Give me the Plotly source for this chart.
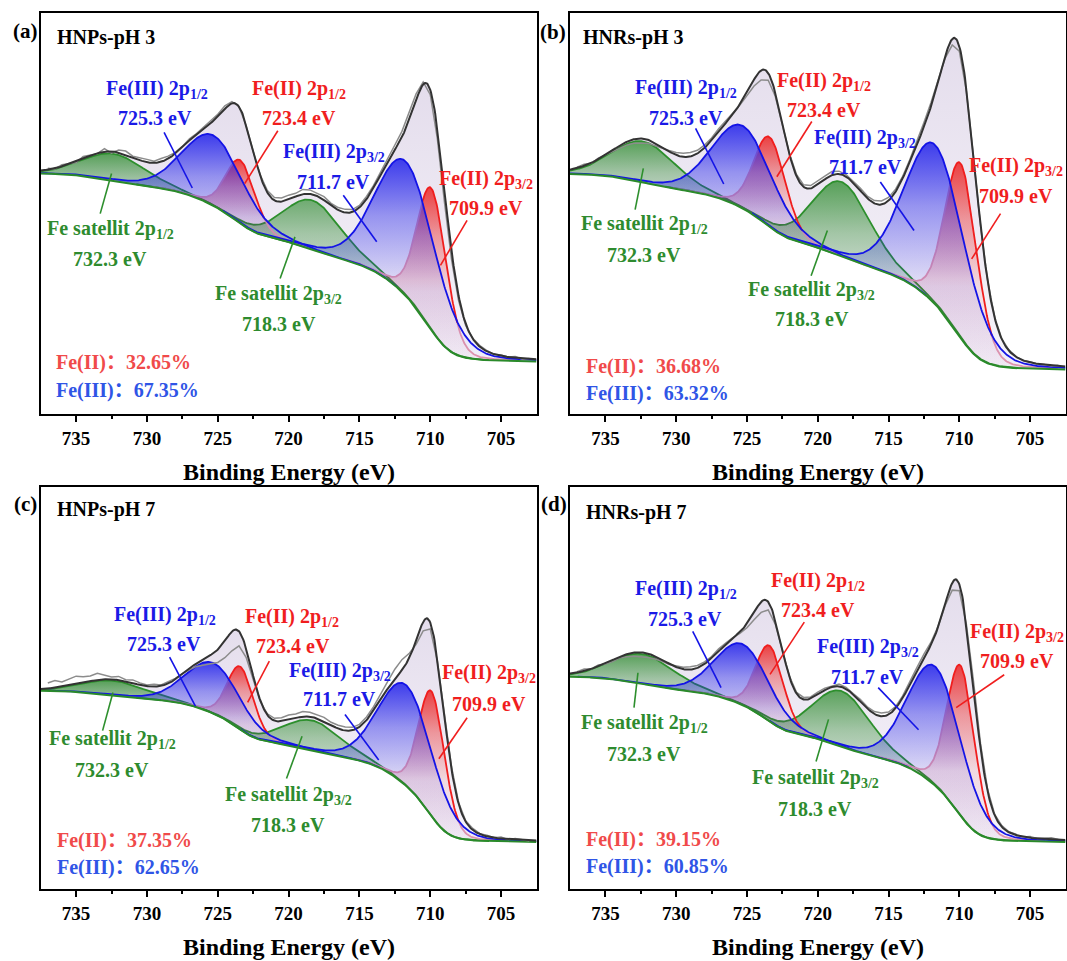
import numpy as np
import plotly.graph_objects as go

W, H = 1067, 961
FONT = "Liberation Serif"
FONT_CJK = "Liberation Serif, Noto Sans CJK SC"

# ---------------- data ----------------
E_MIN, E_MAX = 702.5, 737.5
TICKS = [735, 730, 725, 720, 715, 710, 705]
MINOR_TICKS = [732.5, 727.5, 722.5, 717.5, 712.5, 707.5]

PANEL_TAGS = ["(a)", "(b)", "(c)", "(d)"]
SAMPLES = ["HNPs-pH 3", "HNRs-pH 3", "HNPs-pH 7", "HNRs-pH 7"]

# fitted components: Fe(II) 2p3/2, Fe(III) 2p3/2, satellite 2p3/2,
#                    Fe(II) 2p1/2, Fe(III) 2p1/2, satellite 2p1/2
KINDS = ["Fe2", "Fe3", "sat", "Fe2", "Fe3", "sat"]
ORBITALS = ["3/2", "3/2", "3/2", "1/2", "1/2", "1/2"]
CENTERS = [709.9, 711.7, 718.3, 723.4, 725.3, 732.3]          # eV
ETA = 0.15                                                     # Lorentzian fraction

# FWHM (eV) per panel; Fe(II) widths follow from the stated area shares
FE3_FWHM = [5.0, 5.0, 4.5, 4.5]
SAT32_FWHM = [4.8, 4.8, 4.8, 4.8]
SAT12_FWHM = [5.2, 5.2, 5.2, 5.2]

# apex level of each component curve (0-100 panel scale)
APEX_A = [56.2, 62.9, 53.3, 63.3, 69.5, 64.9]
APEX_B = [62.5, 67.1, 57.9, 69.1, 71.9, 68.0]
APEX_C = [49.1, 50.7, 41.9, 55.3, 56.2, 51.8]
APEX_D = [55.5, 55.3, 49.2, 60.5, 60.9, 58.4]
APEXES = [APEX_A, APEX_B, APEX_C, APEX_D]

# Shirley background end levels (low-BE side, high-BE side)
BG_LOW = [13.1, 11.1, 11.7, 11.7]
BG_HIGH = [60.0, 59.9, 49.3, 52.8]

# Fe(II) / Fe(III) area shares (%)
FE2_PCT = [32.65, 36.68, 37.35, 39.15]
FE3_PCT = [67.35, 63.32, 62.65, 60.85]

# residual (raw - fit) every 0.5 eV from 737.0 down to 703.0 eV
RESID_A = [0.3, -0.2, 0.4, 0.1, -0.3, 0.5, 0.2, -0.1,
           0.8, -0.4, 0.6, 0.9, 0.3,
           0.5, 0.7, 0.4, 0.8, 0.6, 0.3,
           0.2, 0.4, 0.1, 0.3, 0.5, 0.6,
           0.8, 0.4, 0.0, -0.3, -0.2,
           0.2, 0.5, 0.7, 0.9, 1.1, 0.8,
           1.2, 1.0, 0.7, 0.9, 0.5, 0.6,
           0.8, 0.6, 0.5, 0.7, 0.6,
           0.8, 1.0, 1.2, 1.4, 1.8, 1.6,
           0.6, -1.2, -2.5, -3.0,
           -2.2, -1.2, -0.5, 0.1, 0.3,
           0.2, -0.1, 0.2, 0.0, 0.3, -0.2, 0.1]
RESID_B = [0.2, 0.4, -0.1, 0.3, 0.1, -0.4, -0.6, -0.8,
           -1.0, -1.2, -0.9, -0.6, -0.3,
           0.2, 0.6, 0.9, 1.0, 0.8, 0.7,
           0.6, 0.8, 0.5, 0.3, -0.2, -0.8,
           -1.6, -2.4, -1.8, -0.9, -0.3,
           0.2, 0.4, 0.5, 0.7, 0.9, 0.8,
           0.9, 0.7, 0.5, 0.4, 0.6, 0.5,
           0.7, 0.9, 0.8, 0.6, 0.5,
           0.6, 0.9, 1.1, 1.0, 0.4, -0.4,
           -1.5, -1.2, -0.6, -0.3,
           -0.2, 0.1, 0.2, 0.1, 0.2,
           0.1, -0.1, 0.2, 0.0, 0.1, -0.1, 0.2]
RESID_C = [1.4, 1.8, 1.2, 1.6, 2.0, 1.5, 1.3, 1.7,
           1.0, 0.6, 0.9, 0.4, 0.8,
           0.5, 0.3, 0.6, 0.2, 0.5, 0.3,
           0.2, -0.3, -0.8, -1.5, -2.2, -3.2,
           -4.2, -4.8, -3.6, -2.2, -1.0,
           -0.3, 0.3, 0.6, 0.9, 1.2, 1.0,
           1.3, 1.1, 0.8, 1.0, 0.7, 0.8,
           0.9, 0.7, 0.6, 0.8, 1.0,
           1.4, 1.8, 2.4, 2.6, 1.2, -1.0,
           -2.2, -1.6, -0.6, 0.3,
           0.6, 0.3, 0.2, 0.4, 0.1,
           0.3, 0.0, 0.4, -0.1, 0.3, 0.1, -0.2]
RESID_D = [0.2, 0.5, 0.0, 0.3, -0.2, -0.4, -0.3, -0.6,
           -0.9, -1.2, -1.0, -0.7, -0.4,
           -0.2, 0.3, 0.5, 0.7, 0.6, 0.5,
           0.4, 0.6, 0.3, 0.1, -0.4, -1.0,
           -1.8, -2.6, -2.0, -1.0, -0.4,
           0.1, 0.3, 0.5, 0.4, 0.6, 0.5,
           0.3, 0.6, 0.4, 0.2, 0.5, 0.4,
           0.6, 0.8, 0.6, 0.4, 0.5,
           0.7, 0.9, 1.0, 0.6, 0.2, -0.4,
           -1.8, -1.6, -0.2, 1.6,
           1.2, 0.5, 0.2, 0.3, 0.1,
           0.2, -0.1, 0.3, 0.0, 0.2, 0.4, 0.1]
RESIDUALS = [RESID_A, RESID_B, RESID_C, RESID_D]

# ---------------- layout geometry (pixels) ----------------
FRAMES = [(40.7, 536.5, 13.3, 414.0), (570.0, 1065.5, 13.3, 414.0),
          (40.7, 536.5, 487.0, 889.0), (570.0, 1065.5, 487.0, 889.0)]
TAG_POS = [(25, 31), (553, 32), (25, 504), (554, 504)]
TITLE_POS = [(55, 37), (581, 37.5), (55, 510), (584, 512.5)]
PCT_POS = [(54, 362, 390), (584, 366, 393), (55, 840, 867), (584, 839, 866)]
# label centres (name line, energy line) in component order
LABEL_POS = [
    [((486, 179), (486, 207.6)), ((333.5, 152.8), (333.5, 182)), ((278.5, 294), (278.5, 324)),
     ((299, 89.7), (299, 118)), ((156.5, 89.7), (154.8, 118)), ((110, 229), (110, 258.5))],
    [((1015.6, 167), (1015.6, 195.7)), ((865.4, 138.8), (865.4, 167)), ((811.9, 290), (811.9, 319)),
     ((823.8, 82), (823.8, 110.4)), ((686, 88.6), (686, 117.7)), ((644, 224), (644, 255))],
    [((489, 673.7), (489, 704)), ((339.7, 671), (339.7, 699)), ((288, 795), (288, 825)),
     ((292, 617), (293, 645.5)), ((164.5, 615), (163.5, 643.5)), ((112, 739.4), (112, 769.7))],
    [((1017, 632.8), (1017, 661)), ((867.5, 647), (867, 676.5)), ((815, 778.7), (815, 809)),
     ((818, 581.5), (818, 610)), ((686.3, 589), (684.6, 619)), ((644.3, 723.4), (644.3, 753.6))],
]
# pointer lines in data units (eV, level) -> (eV, level), component order
POINTERS = [
    [(707.4, 48.3, 709.28, 37.1), (716.14, 54.6, 713.78, 43.0), (719.55, 44.2, 720.6, 33.8),
     (720.76, 70.7, 723.1, 57.5), (728.79, 70.3, 726.8, 56.4), (732.5, 60.0, 733.3, 50.0)],
    [(707.09, 50.0, 709.13, 38.7), (715.58, 57.9, 713.2, 45.8), (719.32, 45.8, 720.47, 34.5),
     (720.42, 73.0, 722.89, 59.2), (728.63, 71.3, 726.64, 57.4), (732.32, 61.3, 732.9, 51.0)],
    [(707.4, 42.6, 709.39, 32.4), (716.02, 43.4, 713.64, 32.1), (719.05, 38.0, 720.15, 27.5),
     (721.36, 56.7, 722.89, 46.4), (728.4, 57.7, 726.58, 45.5), (732.4, 48.9, 733.13, 39.4)],
    [(706.83, 53.3, 710.22, 45.1), (715.73, 50.1, 712.88, 39.6), (719.24, 42.2, 720.12, 31.7),
     (720.95, 66.4, 723.37, 53.4), (728.83, 64.1, 726.83, 50.1), (732.7, 53.8, 732.98, 45.1)],
]

LINE_COL = {"Fe2": "#F01E1E", "Fe3": "#1414E6", "sat": "#2D8F2D"}
HIDDEN_FE2_COL = "#E396AC"        # Fe(II) outline seen through the Fe(III) area
TEXT_COL = {"Fe2": "#F01E1E", "Fe3": "#1A1AE6", "sat": "#2E8B2E"}


def fade(r, g, b, top_alpha):
    # vertical gradient: clear at the base, strong only near the apex
    return [[0.0, f"rgba({r},{g},{b},0.02)"], [0.4, f"rgba({r},{g},{b},0.10)"],
            [0.72, f"rgba({r},{g},{b},{top_alpha * 0.5:.2f})"], [1.0, f"rgba({r},{g},{b},{top_alpha})"]]


FILL_SCALE = {"Fe2": fade(235, 35, 35, 0.85), "Fe3": fade(30, 30, 235, 0.85),
              "sat": fade(45, 140, 45, 0.78)}
ENV_SCALE = [[0, "rgba(228,220,238,0.35)"], [1, "rgba(205,192,220,0.55)"]]
NAMES = {"Fe2": "Fe(II) 2p", "Fe3": "Fe(III) 2p", "sat": "Fe satellit 2p"}


def pseudo_voigt(e, c, h, w, eta=ETA):
    u = (e - c) / w
    return h * (eta / (1 + 4 * u * u) + (1 - eta) * np.exp(-4 * np.log(2) * u * u))


def shirley(e, total, low, high):
    cum = np.concatenate([[0.0], np.cumsum((total[1:] + total[:-1]) / 2 * np.diff(e))])
    return low + (high - low) * cum / cum[-1]


def grow(mask):
    # widen a boolean run by one sample on each side so line pieces join up
    out = mask.copy()
    out[1:] |= mask[:-1]
    out[:-1] |= mask[1:]
    return out


def px_to_paper(x, y):
    return x / W, 1 - y / H


E = np.round(np.linspace(E_MIN, E_MAX, 701), 2)
RAW_IDX = np.arange(10, 691, 10)           # 703.0 ... 737.0 eV
CENTER_IDX = [int(np.argmin(np.abs(E - c))) for c in CENTERS]

fig = go.Figure()
annotations = []
shapes = []

for p in range(4):
    xa = "x" if p == 0 else f"x{p + 1}"
    ya = "y" if p == 0 else f"y{p + 1}"
    apex = np.array(APEXES[p])
    w = [None, FE3_FWHM[p], SAT32_FWHM[p], None, FE3_FWHM[p], SAT12_FWHM[p]]

    # self-consistent fit: peak heights above a Shirley background
    bg = np.interp(E, [E_MIN, E_MAX], [BG_LOW[p], BG_HIGH[p]])
    for _ in range(30):
        h = apex - bg[CENTER_IDX]
        fe3_area = h[1] * w[1] + h[4] * w[4]
        w_fe2 = FE2_PCT[p] / FE3_PCT[p] * fe3_area / (h[0] + h[3])
        w[0] = w[3] = w_fe2
        peaks = [pseudo_voigt(E, c, hh, ww) for c, hh, ww in zip(CENTERS, h, w)]
        total = np.sum(peaks, axis=0)
        bg = shirley(E, total, BG_LOW[p], BG_HIGH[p])
    env = bg + total
    raw = env[RAW_IDX] + np.array(RESIDUALS[p])[::-1]

    # envelope area
    fig.add_trace(go.Scatter(
        x=np.concatenate([E, E[::-1]]), y=np.concatenate([env, bg[::-1]]),
        xaxis=xa, yaxis=ya, mode="lines", fill="toself", line=dict(width=0),
        fillgradient=dict(type="vertical", colorscale=ENV_SCALE),
        hoverinfo="skip", showlegend=False))

    order = [2, 5, 0, 3, 1, 4]
    for k in order:
        kind = KINDS[k]
        m = np.abs(E - CENTERS[k]) < 2.6 * w[k]
        xs, top, base = E[m], bg[m] + peaks[k][m], bg[m]
        fig.add_trace(go.Scatter(
            x=np.concatenate([xs, xs[::-1]]), y=np.concatenate([top, base[::-1]]),
            xaxis=xa, yaxis=ya, mode="lines", fill="toself", line=dict(width=0),
            fillgradient=dict(type="vertical", colorscale=FILL_SCALE[kind]),
            hoverinfo="skip", showlegend=False))
        if kind == "Fe2":
            # outline split where it runs beneath the Fe(III) partner of the same orbital
            partner = bg[m] + peaks[k + 1][m]
            under = top < partner
            for seg_mask, col in ((grow(under), HIDDEN_FE2_COL), (grow(~under), LINE_COL[kind])):
                fig.add_trace(go.Scatter(
                    x=xs, y=np.where(seg_mask, top, np.nan), xaxis=xa, yaxis=ya, mode="lines",
                    line=dict(color=col, width=1.8), connectgaps=False,
                    hoverinfo="skip", showlegend=False))
        else:
            fig.add_trace(go.Scatter(
                x=xs, y=top, xaxis=xa, yaxis=ya, mode="lines",
                line=dict(color=LINE_COL[kind], width=1.8),
                hoverinfo="skip", showlegend=False))

    fig.add_trace(go.Scatter(x=E, y=bg, xaxis=xa, yaxis=ya, mode="lines",
                             line=dict(color="#2A8A2A", width=2), showlegend=False))
    fig.add_trace(go.Scatter(x=E[RAW_IDX], y=raw, xaxis=xa, yaxis=ya, mode="lines",
                             line=dict(color="#8C8C8C", width=1.5), showlegend=False))
    fig.add_trace(go.Scatter(x=E, y=env, xaxis=xa, yaxis=ya, mode="lines",
                             line=dict(color="#333333", width=2), showlegend=False))

    # axes
    x0, x1, y0, y1 = FRAMES[p]
    fig.layout[("xaxis" if p == 0 else f"xaxis{p + 1}")] = dict(
        domain=[x0 / W, x1 / W], anchor=ya, range=[E_MAX, E_MIN],
        tickmode="array", tickvals=TICKS, ticks="outside", ticklen=6, tickwidth=2,
        tickcolor="black", showline=True, linewidth=2, linecolor="black", mirror=True,
        showgrid=False, zeroline=False,
        tickfont=dict(family=FONT, size=19, color="black", weight="bold"),
        minor=dict(tickmode="array", tickvals=MINOR_TICKS, ticks="outside",
                   ticklen=3, tickwidth=2, tickcolor="black"))
    fig.layout[("yaxis" if p == 0 else f"yaxis{p + 1}")] = dict(
        domain=[1 - y1 / H, 1 - y0 / H], anchor=xa, range=[0, 100],
        showticklabels=False, ticks="", showline=True, linewidth=2, linecolor="black",
        mirror=True, showgrid=False, zeroline=False)

    # texts
    def add_text(txt, pos, color, size=20, xanchor="center", family=FONT):
        px, py = px_to_paper(*pos)
        annotations.append(dict(text=txt, x=px, y=py, xref="paper", yref="paper",
                                xanchor=xanchor, yanchor="middle", showarrow=False,
                                font=dict(family=family, size=size, color=color, weight="bold")))

    add_text(PANEL_TAGS[p], TAG_POS[p], "black", size=21)
    add_text(SAMPLES[p], TITLE_POS[p], "black", size=20, xanchor="left")
    pct_x, pct_y1, pct_y2 = PCT_POS[p]
    add_text(f"Fe(II)：{FE2_PCT[p]:.2f}%", (pct_x, pct_y1), "#F04A4A", xanchor="left", family=FONT_CJK)
    add_text(f"Fe(III)：{FE3_PCT[p]:.2f}%", (pct_x, pct_y2), "#2F55E6", xanchor="left", family=FONT_CJK)
    add_text("Binding Energy (eV)", ((x0 + x1) / 2, y1 + 58), "black", size=24)

    for k in range(6):
        kind = KINDS[k]
        name_pos, ev_pos = LABEL_POS[p][k]
        add_text(f"{NAMES[kind]}<sub>{ORBITALS[k]}</sub>", name_pos, TEXT_COL[kind])
        add_text(f"{CENTERS[k]:.1f} eV", ev_pos, TEXT_COL[kind])
        ex0, ey0, ex1, ey1 = POINTERS[p][k]
        shapes.append(dict(type="line", xref=xa, yref=ya, x0=ex0, y0=ey0, x1=ex1, y1=ey1,
                           line=dict(color=LINE_COL[kind], width=1.6)))

fig.update_layout(
    width=W, height=H, margin=dict(l=0, r=0, t=0, b=0),
    paper_bgcolor="white", plot_bgcolor="white", showlegend=False,
    font=dict(family=FONT),
    annotations=annotations, shapes=shapes,
)

fig.write_html("out.html")
